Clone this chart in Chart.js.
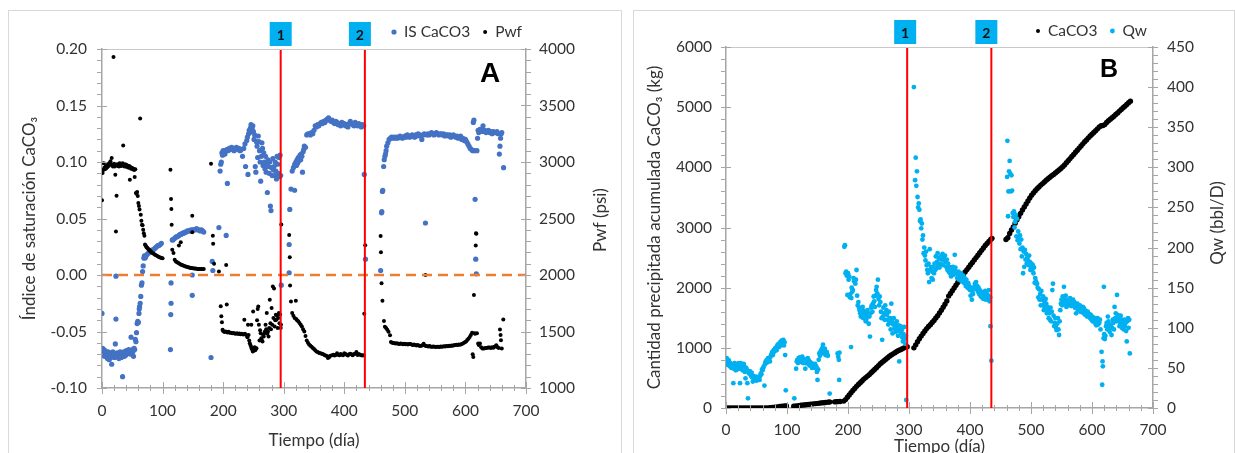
<!DOCTYPE html>
<html>
<head>
<meta charset="utf-8">
<script src="https://cdn.jsdelivr.net/npm/chart.js@4.4.1/dist/chart.umd.min.js"></script>
<style>
  body { margin: 0; background: #fff; width: 1235px; height: 453px; overflow: hidden; position: relative; }
  .frame { position: absolute; border: 1px solid #d9d9d9; }
  #boxA { left: 8px; top: 10px; width: 612px; height: 460px; }
  #boxB { left: 633px; top: 10px; width: 600px; height: 460px; }
  #wrapA { position: absolute; left: 0; top: 0; }
  #wrapB { position: absolute; left: 620px; top: 0; }
</style>
</head>
<body>
<div class="frame" id="boxA"></div>
<div class="frame" id="boxB"></div>
<div id="wrapA"><canvas id="chartA" width="620" height="453"></canvas></div>
<div id="wrapB"><canvas id="chartB" width="615" height="462"></canvas></div>
<script>
// ---- data: [day, value] ----
// Panel A: indice de saturacion (left axis) and Pwf (right axis, psi)
const isCaCO3 = [
  [0,-0.034],[1,-0.065],[2,-0.068],[3,-0.066],[4,-0.072],[5,-0.067],[6,-0.069],[8,-0.070],[9,-0.074],[10,-0.068],
  [11,-0.072],[12,-0.075],[13,-0.070],[14,-0.069],[15,-0.073],[16,-0.079],[17,-0.071],[18,-0.068],[19,-0.072],[20,-0.070],
  [21,-0.073],[22,-0.061],[23,-0.001],[23,-0.039],[24,-0.071],[25,-0.069],[26,-0.072],[27,-0.070],[28,-0.074],[29,-0.071],
  [30,-0.068],[31,-0.072],[32,-0.073],[33,-0.070],[34,-0.090],[35,-0.071],[36,-0.068],[37,-0.072],[38,-0.069],[39,-0.071],
  [40,-0.067],[41,-0.070],[42,-0.068],[43,-0.069],[44,-0.066],[45,-0.068],[46,-0.067],[47,-0.070],[48,-0.055],[49,-0.067],
  [50,-0.066],[51,-0.068],[52,-0.072],[53,-0.065],[54,-0.066],[55,-0.057],
  [56,-0.059],[57,-0.051],[58,-0.043],[59,-0.041],[60,-0.042],[61,-0.034],[61.5,-0.030],[62,-0.028],[63,-0.025],[64,-0.019],
  [65,-0.009],[66,-0.007],[67,0.003],[68,0.008],[69,0.015],[70,0.017],[71,0.015],
  [72,0.016],[74,0.018],[76,0.019],[78,0.020],[80,0.021],[82,0.022],[84,0.022],[86,0.023],[88,0.024],[90,0.025],
  [92,0.026],[94,0.026],[96,0.027],[98,0.028],
  [113,-0.066],[113.5,-0.035],[114,-0.025],[114,-0.007],[116,0.031],
  [117,0.031],[119,0.032],[121,0.033],[123,0.034],[125,0.034],[127,0.035],[129,0.036],[131,0.036],[133,0.037],[135,0.037],
  [137,0.038],[139,0.038],[141,0.039],[143,0.039],[145,0.039],[147,0.040],[149,0.0],[149,-0.018],[150,0.040],[152,0.040],
  [154,0.040],[156,0.041],[158,0.040],[160,0.040],[162,0.039],[164,0.040],[166,0.039],[168,0.038],
  [180,-0.073],[182,0.012],[183,0.004],[193,0.042],[205,0.035],
  [195,0.092],[196,0.098],[197,0.100],[198,0.108],[199,0.106],[200,0.110],[202,0.109],[203,0.107],[204,0.110],[207,0.081],
  [206,0.111],[208,0.110],[210,0.112],[212,0.111],[214,0.113],[216,0.112],[218,0.110],[220,0.112],[222,0.113],[224,0.111],
  [226,0.112],[228,0.110],[230,0.111],[232,0.105],[234,0.112],[236,0.116],[237,0.096],[239,0.119],[240,0.122],[241,0.089],
  [242,0.125],[243,0.128],[244,0.126],[245,0.130],[246,0.133],[247,0.131],[248,0.129],[249,0.132],[250,0.127],[251,0.120],
  [252,0.124],[253,0.096],[254,0.091],[255,0.118],[256,0.114],[257,0.104],[258,0.123],[259,0.118],[260,0.110],[261,0.100],
  [262,0.083],[263,0.105],[264,0.117],[265,0.112],[266,0.097],[267,0.108],[268,0.100],[269,0.094],[270,0.105],[271,0.091],
  [272,0.098],[273,0.073],[274,0.102],[275,0.096],[276,0.090],[277,0.100],[278,0.061],[279,0.057],[280,0.095],[281,0.088],
  [282,0.103],[283,0.093],[284,0.096],[285,0.088],[286,0.100],[287,0.092],[288,0.085],[289,0.105],[290,0.098],[291,0.090],
  [292,0.104],[293,0.087],[294,0.106],[295,0.088],
  [296,-0.009],[309,0.002],[309,0.027],[310,0.058],[312,0.076],[314,0.092],[316,0.095],[318,0.075],[318,0.098],[320,0.100],
  [321,0.097],[322,0.102],[323,0.099],[324,0.104],[325,0.101],[326,0.103],[327,0.106],[328,0.102],[329,0.107],[330,0.105],
  [331,0.091],[332,0.109],[333,0.111],[334,0.114],[336,0.113],[338,0.124],[340,0.125],[342,0.125],[344,0.124],[346,0.126],
  [348,0.125],[350,0.128],[352,0.132],[354,0.131],[356,0.133],[358,0.132],[360,0.134],[362,0.135],[364,0.134],[366,0.136],
  [368,0.135],[370,0.137],[372,0.138],[374,0.139],[376,0.137],[378,0.136],[380,0.137],[382,0.135],[384,0.134],[386,0.136],
  [388,0.135],[390,0.133],[392,0.134],[394,0.132],[396,0.135],[398,0.133],[400,0.134],[402,0.132],[404,0.133],[406,0.131],
  [408,0.134],[410,0.136],[412,0.134],[414,0.133],[416,0.132],[418,0.135],[420,0.133],[422,0.132],[424,0.134],[426,0.133],
  [428,0.131],[430,0.133],[432,0.132],[433,0.089],[435,0.014],
  [460,0.004],[461.5,0.055],[462,0.056],[463,0.074],[463.5,0.075],[465,0.096],[466,0.102],[467,0.105],[468,0.107],[469,0.110],
  [470,0.114],[472,0.117],[474,0.120],[476,0.121],[478,0.122],[480,0.121],[482,0.122],[484,0.121],[486,0.122],[488,0.121],
  [490,0.122],[492,0.123],[494,0.122],[496,0.121],[498,0.122],[500,0.123],[502,0.122],[504,0.124],[506,0.123],[508,0.122],
  [510,0.123],[512,0.124],[514,0.123],[516,0.122],[518,0.124],[520,0.123],[522,0.125],[524,0.124],[526,0.123],[528,0.120],
  [530,0.124],[532,0.125],[534,0.046],[536,0.124],[538,0.125],[540,0.124],[542,0.125],[544,0.126],[546,0.125],[548,0.124],
  [550,0.125],[552,0.126],[554,0.125],[556,0.124],[558,0.125],[560,0.125],[562,0.124],[564,0.125],[566,0.123],[568,0.124],
  [570,0.124],[572,0.123],[574,0.124],[576,0.122],[578,0.123],[580,0.124],[582,0.123],[584,0.122],[586,0.123],[588,0.121],
  [590,0.122],[592,0.123],[594,0.120],[596,0.121],[598,0.119],[600,0.120],[602,0.118],[604,0.116],[606,0.114],[608,0.112],
  [610,0.111],[612,0.110],[613,0.135],[614,0.137],[615,0.110],[616,0.067],[617,0.014],[618,0.001],[619,0.110],[620,0.121],
  [621,0.128],[622,0.126],[624,0.129],[626,0.127],[628,0.128],[629,0.132],[630,0.127],[632,0.128],[634,0.126],[636,0.127],
  [638,0.128],[640,0.126],[642,0.127],[644,0.125],[646,0.127],[648,0.126],[650,0.126],[652,0.127],[654,0.125],[656,0.107],
  [657,0.114],[658,0.121],[659,0.125],[660,0.126],[663,0.095]
];
const pwf = [
  [0,2661],[1,2903],[2,2930],[3,2990],[4,2950],[5,2935],[6,2960],[7,2945],[8,2970],[9,2955],[10,2980],[11,2965],[12,2990],
  [13,2975],[14,3006],[15,2980],[16,3035],[17,2975],[18,2960],[19,3929],[20,2985],[21,2960],[22,2888],[23,2386],[24,2702],
  [25,2980],[26,2965],[27,2975],[28,2960],[29,2990],[30,2970],[31,2985],[32,2965],[33,2975],[34,2990],[35,3145],[36,2975],
  [37,2960],[38,2980],[39,2965],[40,2975],[41,2955],[42,2970],[43,2960],[44,2950],[45,2965],[46,2844],[47,2955],[48,2940],
  [49,2950],[50,2945],[51,2935],[52,2940],[53,2930],[54,2867],[55,2935],
  [56,2726],[57,2720],[58,2735],[59,2700],[60,2637],[61,2610],[62,2580],[63,3386],[64,2534],[65,2480],[66,2445],[67,2440],
  [68,2400],[69,2370],[70,2348],
  [71,2270],[72,2262],[73,2250],[74,2244],[75,2239],[76,2232],[77,2226],[78,2222],[79,2215],[80,2210],[81,2205],[82,2200],
  [84,2192],[86,2185],[88,2178],[90,2172],[92,2165],[94,2160],[96,2155],[98,2150],[100,2148],
  [113,2932],[114,2673],[114.5,2584],[115,2445],[116,2224],[118,2195],[120,2136],
  [122,2120],[124,2112],[126,2106],[127,2260],[128,2100],[130,2289],[130,2094],[132,2088],[134,2083],[136,2079],[138,2076],
  [140,2072],[142,2068],[144,2066],[146,2063],[148,2061],[149,2525],[149,2378],[150,2060],[152,2058],[154,2057],[156,2055],
  [158,2054],[160,2052],[162,2053],[164,2052],[166,2054],[168,2053],
  [180,2985],[183,2348],[183.5,2277],[185,2100],[193,2032],[205,2089],
  [196,1723],[197,1634],[198,1581],[199,1516],[200,1505],[202,1495],[204,1500],[206,1740],[207,1492],[209,1497],[211,1488],
  [213,1490],[215,1484],[217,1487],[219,1482],[221,1480],[223,1485],[225,1478],[227,1482],[229,1476],[231,1480],[233,1474],
  [235,1603],[236,1480],[238,1468],[240,1450],[241,1560],[242,1470],[243,1420],[244,1396],[245,1380],[246,1367],[246.5,1559],
  [247,1350],[248,1340],[249,1322],[249.5,1677],[250,1330],[251,1345],[252,1360],[253,1335],[254,1350],[255,1352],[256,1600],
  [257,1700],[258,1722],[259,1560],[260,1420],[261,1510],[262,1485],[263,1440],[264,1420],[265,1411],[266,1470],[267,1455],
  [268,1485],[269,1500],[270,1560],[271,1520],[272,1663],[273,1480],[274,1500],[275,1456],[276,1530],[277,1781],[278,1574],
  [279,1520],[280,1707],[281,1560],[282,1899],[283,1620],[284,1880],[285,1544],[286,1600],[287,1648],[288,1604],[289,1640],
  [290,1530],[291,1620],[292,1663],[293,1574],[294,1650],[295,1530],[295.5,1560],
  [296,2447],[309,2355],[310,2157],[310.5,1908],[312,1766],[314,1663],[316,1640],[318,1620],[320,1772],[320.5,1610],[322,1600],
  [324,1590],[326,1575],[328,1560],[330,1545],[332,1520],[334,1500],[336,1460],[338,1420],[340,1400],[342,1385],[344,1375],
  [346,1365],[348,1355],[350,1345],[352,1335],[354,1322],[356,1318],[358,1312],[360,1308],[362,1305],[364,1300],[366,1296],
  [368,1290],[370,1286],[372,1280],[373,1265],[375,1272],[377,1285],[380,1290],[382,1295],[384,1288],[386,1293],[388,1307],
  [390,1295],[392,1290],[394,1300],[396,1295],[398,1290],[400,1307],[402,1300],[404,1295],[406,1288],[408,1298],[410,1302],
  [412,1296],[414,1290],[416,1300],[418,1302],[420,1318],[422,1292],[424,1300],[426,1295],[428,1290],[430,1288],[432,1290],
  [433,1657],[434.5,2263],
  [460,2346],[460.5,2201],[461.5,1926],[463,1772],[465.5,1594],[467,1541],[469,1530],[471,1515],[473,1497],[475.5,1467],
  [477,1408],[479,1400],[481,1398],[483,1395],[485,1393],[487,1396],[489,1392],[491,1390],[493,1394],[495,1391],[497,1388],
  [499,1392],[501,1387],[503,1390],[505,1386],[507,1389],[509,1390],[511,1385],[513,1380],[515,1384],[517,1380],[519,1376],
  [521,1380],[523,1376],[525,1372],[527,1375],[529,1378],[531,1392],[533,1376],[534,2000],[535,1372],[537,1370],[539,1368],
  [541,1372],[543,1366],[545,1364],[547,1368],[549,1365],[551,1362],[553,1364],[555,1366],[557,1363],[559,1368],[561,1365],
  [563,1367],[565,1370],[567,1368],[569,1372],[571,1370],[573,1374],[575,1372],[577,1376],[579,1374],[581,1378],[583,1380],
  [585,1382],[587,1380],[589,1385],[591,1382],[593,1388],[595,1392],[597,1399],[599,1405],[601,1412],[603,1425],[605,1435],
  [607,1452],[609,1470],[611,1488],[612,1298],[613,1275],[614,1822],[615,1485],[616,1480],[617,2260],[617.5,2370],[618,2365],
  [619,1484],[621,1393],[622,1380],[624,1393],[626,1360],[628,1350],[630,1349],[632,1352],[634,1355],[636,1356],[638,1358],
  [640,1358],[642,1355],[644,1360],[646,1357],[648,1365],[650,1370],[651,1378],[653,1360],[655,1355],[657,1518],[658,1470],
  [658.7,1423],[660,1349],[662.5,1606]
];

// Panel B: cumulative CaCO3 (kg, left axis) and Qw (bbl/D, right axis)
const caco3Acum = [
  [0,0],[4,0],[8,0],[12,0],[16,0],[20,0],[24,0],[28,0],[32,0],[36,0],[40,0],[44,0],[48,0],[52,0],[56,0],[60,0],[64,0],
  [68,2],[72,4],[76,8],[80,14],[84,19],[88,24],[92,28],[96,32],[99,35],
  [111,30],[115,36],[119,40],[123,45],[127,50],[131,55],[135,60],[139,65],[143,69],[147,73],[151,77],[155,82],[159,87],
  [163,92],[167,97],[170,100],
  [178,102],[181,104],[184,106],[187,108],
  [193,115],[196,140],[199,180],[202,215],[205,255],[208,290],[211,325],[214,360],[217,390],[220,420],[223,450],[226,480],
  [229,505],[232,530],[235,555],[238,585],[241,615],[244,645],[247,675],[250,705],[253,735],[256,760],[259,785],[262,810],
  [265,835],[268,860],[271,880],[274,900],[277,920],[280,940],[283,955],[286,970],[289,985],[292,1000],[295,1010],[297,1020],
  [308,1000],[311,1050],[314,1100],[317,1150],[320,1195],[323,1240],[326,1280],[329,1320],[332,1355],[335,1385],[338,1420],
  [341,1455],[344,1495],[347,1535],[350,1578],[353,1625],[356,1675],[359,1725],[362,1780],[365,1860],[368,1905],[371,1950],
  [374,1995],[377,2040],[380,2085],[383,2130],[386,2175],[389,2220],[392,2260],[395,2300],[398,2340],[401,2380],[404,2420],
  [407,2460],[410,2500],[413,2540],[416,2580],[419,2620],[422,2660],[425,2700],[428,2735],[431,2770],[434,2800],[436,2820],
  [459,2800],[462,2830],[465,2900],[468,2958],[471,3010],[474,3070],[477,3130],[480,3180],[483,3235],[486,3290],[489,3340],
  [492,3390],[495,3440],[498,3490],[501,3535],[504,3575],[507,3610],[510,3645],[513,3675],[516,3705],[519,3730],[522,3755],
  [525,3785],[528,3810],[531,3835],[534,3860],[537,3880],[540,3905],[543,3930],[546,3955],[549,3980],[552,4010],[555,4040],
  [558,4075],[561,4110],[564,4145],[567,4180],[570,4215],[573,4250],[576,4285],[579,4320],[582,4355],[585,4390],[588,4425],
  [591,4455],[594,4490],[597,4520],[600,4550],[603,4580],[606,4610],[609,4640],[612,4670],[615,4690],[618,4695],[621,4710],
  [624,4745],[627,4775],[630,4800],[633,4825],[636,4850],[639,4880],[642,4905],[645,4935],[648,4960],[651,4990],[654,5015],
  [657,5045],[660,5075],[663,5100]
];
const qw = [
  [1,62],[2,58],[3,54],[4,60],[5,58],[6,52],[7,56],[8,55],[9,50],[10,53],[11,52],[12,31],[13,49],[14,56],[15,50],[16,47],
  [17,53],[18,48],[19,55],[20,52],[21,56],[22,49],[23,31],[24,56],[25,51],[26,54],[27,47],[28,52],[29,55],[30,52],[31,45],
  [32,37],[33,50],[34,48],[35,31],[36,12],[37,44],[38,43],[39,46],[40,42],[41,40],[42,44],[43,38],[44,33],[45,40],[46,38],
  [47,36],[48,37],[49,39],[50,34],[51,36],[52,35],[53,38],[54,36],[55,35],[56,40],[57,43],[58,42],[59,48],[60,47],[61,50],
  [62,52],[63,28],[64,55],[65,58],[66,56],[67,60],[68,57],[69,62],[70,60],[71,62],[72,58],[73,64],[74,66],[75,68],[76,70],
  [77,66],[78,72],[79,70],[80,73],[81,75],[82,74],[83,72],[84,78],[85,77],[86,80],[87,76],[88,79],[89,82],[90,78],[91,84],
  [92,80],[93,83],[94,85],[95,78],[96,82],[97,66],[98,22],
  [112,12],[115,49],[116,58],[117,60],[118,56],[119,62],[120,58],[121,63],[122,60],[123,62],[124,57],[125,64],[126,59],
  [127,56],[128,61],[129,58],[130,49],[131,56],[132,60],[133,57],[134,62],[135,55],[136,59],[137,53],[138,57],[139,54],
  [140,56],[141,50],[142,55],[143,52],[144,54],[145,50],[146,55],[147,52],[148,52],[149,45],[150,35],[151,48],[152,60],
  [153,68],[154,65],[155,70],[156,72],[157,68],[158,75],[159,79],[160,72],[161,70],[162,74],[163,66],[164,68],[165,70],
  [166,67],[167,65],[170,18],[183,68],[184,64],[185,60],[185.5,35],[186,69],
  [194,201],[195,203],[196,168],[197,170],[198,165],[199,141],[200,168],[201,160],[202,164],[203,138],[204,142],[205,76],
  [205.5,137],[206,150],[207,145],[208,147],[209,162],[210,158],[211,160],[212,155],[213,160],[214,172],[215,140],[216,128],
  [217,132],[218,125],[219,122],[220,118],[221,114],[222,120],[223,116],[224,126],[225,112],[226,121],[227,117],[228,113],
  [229,108],[230,110],[231,118],[232,122],[233,115],[234,105],[235,114],[236,89],[237,118],[238,125],[239,128],[240,120],
  [241,130],[242,139],[243,133],[244,126],[245,140],[246,147],[247,151],[248,143],[249,160],[250,136],[251,128],[252,139],
  [253,132],[254,120],[255,112],[256,85],[257,114],[258,125],[259,118],[260,110],[261,128],[262,118],[263,122],[264,116],
  [265,110],[266,104],[267,120],[268,106],[269,112],[270,98],[271,130],[272,108],[273,93],[274,104],[275,112],[276,99],
  [277,105],[278,95],[279,101],[280,108],[281,96],[282,90],[283,103],[284,58],[285,98],[286,102],[287,93],[288,97],[289,88],
  [290,83],[291,92],[292,101],[293,86],[294,80],[295,90],[295.5,10],
  [308,400],[310,284],[311,312],[312,277],[313,295],[314,263],[315,250],[316,255],[317,247],[318,233],[319,235],[320,224],
  [321,230],[322,210],[323,215],[324,193],[325,200],[326,190],[327,184],[328,195],[329,178],[330,172],[331,168],[332,180],
  [333,157],[334,198],[335,172],[336,176],[337,162],[338,170],[339,160],[340,176],[341,168],[342,180],[343,172],[344,189],
  [345,174],[346,182],[347,193],[348,178],[349,186],[350,175],[351,188],[352,180],[353,189],[354,185],[355,192],[356,178],
  [357,186],[358,184],[359,190],[360,182],[361,176],[362,185],[363,172],[364,180],[365,170],[366,176],[367,168],[368,174],
  [369,164],[370,170],[371,168],[372,176],[373,166],[374,172],[375,191],[376,175],[377,170],[378,168],[379,162],[380,166],
  [381,170],[382,160],[383,166],[384,163],[385,168],[386,158],[387,164],[388,160],[389,165],[390,156],[391,162],[392,158],
  [393,152],[394,160],[395,155],[396,150],[397,156],[398,153],[399,148],[400,147],[401,140],[402,150],[403,135],[404,145],
  [405,142],[406,150],[407,149],[408,155],[409,153],[410,157],[411,148],[412,152],[413,145],[414,150],[415,142],[416,147],
  [417,140],[418,145],[419,138],[420,144],[421,141],[422,136],[423,143],[424,139],[425,146],[426,135],[427,137],[428,142],
  [429,136],[430,140],[431,147],[432,133],[433,138],[433.5,102],[435,59],
  [460.8,288],[461.3,333],[462.4,239],[463,270],[464,295],[465,308],[466,292],[467,270],[468,290],[469,271],[470,243],
  [471,238],[472,245],[473,225],[474,232],[475,241],[476,214],[477,236],[478,209],[479,220],[480,212],[481,205],[482,215],
  [483,198],[484,210],[485,189],[486,200],[487,168],[488,195],[489,176],[490,197],[491,185],[492,192],[493,180],[494,188],
  [495,184],[496,178],[497,190],[498,182],[499,172],[500,176],[501,180],[502,172],[503,178],[504,168],[505,175],[506,156],
  [507,162],[508,158],[509,155],[510,155],[511,150],[512,138],[513,148],[514,135],[515,142],[516,128],[517,146],[518,135],
  [519,128],[520,139],[521,122],[522,132],[523,125],[524,136],[525,130],[526,118],[527,126],[528,122],[529,112],[530,118],
  [531,110],[532,125],[533,108],[534,120],[535,147],[536,155],[537,115],[538,102],[539,106],[540,112],[541,100],[542,97],
  [543,105],[544,112],[545,98],[546,91],[547,108],[548,122],[549,130],[550,135],[551,128],[552,139],[553,133],[554,151],
  [555,136],[556,130],[557,140],[558,126],[559,132],[560,134],[561,128],[562,135],[563,130],[564,137],[565,132],[566,127],
  [567,134],[568,130],[569,135],[570,128],[571,132],[572,125],[573,130],[574,118],[575,126],[576,130],[577,122],[578,128],
  [579,124],[580,128],[581,120],[582,126],[583,124],[584,122],[585,126],[586,118],[587,124],[588,120],[589,116],[590,121],
  [591,118],[592,114],[593,120],[594,117],[595,115],[596,117],[597,112],[598,116],[599,110],[600,114],[601,108],[602,113],
  [603,110],[604,112],[605,106],[606,110],[607,103],[608,108],[609,112],[610,104],[611,110],[612,106],[613,110],[614,98],
  [615.7,70],[616.7,29],[617.3,58],[617.8,52],[619,87],[619.5,151],[620,92],[621,86],[622,90],[623,102],[624,106],[625,98],
  [626,114],[627,108],[628,102],[629,95],[630,100],[631,104],[632,91],[633,100],[634,110],[635,106],[636,98],[637,126],
  [638,112],[639,118],[640,108],[641,141],[642,116],[643,110],[644,112],[645,102],[646,106],[647,115],[648,110],[649,100],
  [650,108],[651,104],[652,98],[653,110],[654,102],[655,106],[656,96],[657,83],[658,108],[659,112],[660,100],[661,110],[662,68]
];

const eventDaysA = [295, 434];
const eventDaysB = [297, 435];
const zeroIS = 0;

const xTicks = [0, 700, 100];       // min, max, step
const isTicks = [-0.1, 0.2, 0.05];
const pwfTicks = [1000, 4000, 500];
const kgTicks = [0, 6000, 1000];
const qwTicks = [0, 450, 50];

Chart.defaults.font.family = 'Lato';
Chart.defaults.color = '#404040';

const TXT = '#333333';
const AXIS = '#a6a6a6';
const TITLE_SIZE = 17;

// minor ticks, event boxes, legend, panel letter, right axis title
const decor = {
  id: 'decor',
  afterDraw(chart, args, o) {
    const ctx = chart.ctx, a = chart.chartArea;
    ctx.save();
    ctx.strokeStyle = '#c8c8c8';
    ctx.lineWidth = 1;
    ctx.beginPath();
    ctx.moveTo(a.left, a.top + 0.5);
    ctx.lineTo(a.right, a.top + 0.5);
    ctx.stroke();

    ctx.strokeStyle = AXIS;
    o.ticks.forEach(t => {
      const s = chart.scales[t.id];
      const n = Math.round((s.max - s.min) / t.minor);
      for (let i = 0; i <= n; i++) {
        const major = i % t.every === 0;
        const p = Math.round(s.getPixelForValue(s.min + i * t.minor)) + 0.5;
        ctx.beginPath();
        if (t.id === 'x') {
          ctx.moveTo(p, a.bottom - (major ? 6 : 3));
          ctx.lineTo(p, a.bottom + (major ? 6 : 3));
        } else if (t.side === 'left') {
          ctx.moveTo(a.left - 5, p);
          ctx.lineTo(a.left + (major ? 5 : 0), p);
        } else {
          ctx.moveTo(a.right - (major ? 5 : 0), p);
          ctx.lineTo(a.right + 5, p);
        }
        ctx.stroke();
      }
    });

    // numbered boxes above the event lines
    o.events.forEach((d, i) => {
      const x = chart.scales.x.getPixelForValue(d) + o.boxShift[i];
      ctx.fillStyle = '#00b0f0';
      ctx.fillRect(x - 11, o.boxTop, 22, 24);
      ctx.fillStyle = '#111';
      ctx.font = 'bold 14px Lato';
      ctx.textAlign = 'center';
      ctx.textBaseline = 'middle';
      ctx.fillText(String(i + 1), x, o.boxTop + 13);
    });

    // legend
    let lx = o.legendX;
    ctx.font = '15.5px Lato';
    ctx.textBaseline = 'middle';
    ctx.textAlign = 'left';
    o.legend.forEach(it => {
      ctx.fillStyle = it.color;
      ctx.beginPath();
      ctx.arc(lx, o.legendY, it.r, 0, Math.PI * 2);
      ctx.fill();
      ctx.fillStyle = TXT;
      ctx.fillText(it.label, lx + 10, o.legendY);
      lx += 10 + ctx.measureText(it.label).width + 15;
    });

    // panel letter
    ctx.fillStyle = '#000';
    ctx.font = 'bold ' + o.letterSize + 'px "Liberation Sans"';
    ctx.textBaseline = 'alphabetic';
    ctx.fillText(o.letter, o.letterX, o.letterY);

    // right axis title, reading upwards
    ctx.translate(o.rightTitleX, o.rightTitleY);
    ctx.rotate(-Math.PI / 2);
    ctx.font = TITLE_SIZE + 'px Lato';
    ctx.fillStyle = TXT;
    ctx.textAlign = 'center';
    ctx.textBaseline = 'middle';
    ctx.fillText(o.rightTitle, 0, 0);
    ctx.restore();
  }
};

function pts(data, color, r, axis, order) {
  return { type: 'scatter', data: data, yAxisID: axis, order: order,
    backgroundColor: color, borderWidth: 0, pointRadius: r, pointHoverRadius: r };
}
function vline(day, lim, axis) {
  return { type: 'line', data: [[day, lim[0]], [day, lim[1]]], yAxisID: axis, order: 0,
    borderColor: '#ff0000', borderWidth: 2, pointRadius: 0, showLine: true };
}
function fmt2(v) { return (Math.abs(v) < 1e-9 ? 0 : v).toFixed(2); }

function scaleX(h, pad) {
  return {
    type: 'linear', min: xTicks[0], max: xTicks[1],
    ticks: { stepSize: xTicks[2], padding: pad, font: { size: 15.5 }, color: TXT },
    grid: { display: false, drawTicks: false },
    border: { color: AXIS, width: 1.5 },
    title: { display: true, text: 'Tiempo (día)', font: { size: TITLE_SIZE }, color: TXT, padding: { top: 0, bottom: h.tb } },
    afterFit: s => { s.height = h.h; }
  };
}
function scaleY(t, pos, w, pad, title, tpad, cb) {
  return {
    type: 'linear', position: pos, min: t[0], max: t[1],
    ticks: { stepSize: t[2], padding: pad, font: { size: 15.5 }, color: TXT, callback: cb },
    grid: { display: false, drawTicks: false },
    border: { color: AXIS, width: 1.5 },
    title: { display: !!title, text: title, font: { size: TITLE_SIZE }, color: TXT, padding: { top: tpad, bottom: 0 } },
    afterFit: s => { s.width = w; }
  };
}

const zeroLine = {
  type: 'line', data: [[xTicks[0], zeroIS], [xTicks[1], zeroIS]], yAxisID: 'y', order: 1,
  borderColor: '#ed7d31', borderWidth: 2.5, borderDash: [10, 6], pointRadius: 0, showLine: true
};

new Chart(document.getElementById('chartA'), {
  type: 'scatter',
  data: { datasets: [
    vline(eventDaysA[0], [isTicks[0], isTicks[1]], 'y'),
    vline(eventDaysA[1], [isTicks[0], isTicks[1]], 'y'),
    zeroLine,
    pts(pwf, '#000000', 2, 'y2', 2),
    pts(isCaCO3, '#4472c4', 2.6, 'y', 3)
  ] },
  options: {
    responsive: false, animation: false, events: [],
    layout: { padding: { top: 49, left: 0, right: 0, bottom: 0 } },
    scales: {
      x: scaleX({ h: 65, tb: 2 }, 14),
      y: scaleY(isTicks, 'left', 102, 15, 'Índice de saturación CaCO₃', 19, fmt2),
      y2: scaleY(pwfTicks, 'right', 94, 13, '', 0, v => v)
    },
    plugins: {
      legend: { display: false }, tooltip: { enabled: false },
      decor: {
        ticks: [
          { id: 'x', minor: 20, every: 5 },
          { id: 'y', side: 'left', minor: 0.01, every: 5 },
          { id: 'y2', side: 'right', minor: 100, every: 5 }
        ],
        events: eventDaysA, boxShift: [0, -5], boxTop: 22,
        legend: [{ label: 'IS CaCO3', color: '#4472c4', r: 2.6 }, { label: 'Pwf', color: '#000', r: 2 }],
        legendX: 394, legendY: 32,
        letter: 'A', letterSize: 28, letterX: 480, letterY: 82,
        rightTitle: 'Pwf (psi)', rightTitleX: 601, rightTitleY: 220
      }
    }
  },
  plugins: [decor]
});

new Chart(document.getElementById('chartB'), {
  type: 'scatter',
  data: { datasets: [
    vline(eventDaysB[0], [kgTicks[0], kgTicks[1]], 'y'),
    vline(eventDaysB[1], [kgTicks[0], kgTicks[1]], 'y'),
    pts(qw, '#00b0f0', 2.4, 'y2', 2),
    pts(caco3Acum, '#000000', 2.7, 'y', 3)
  ] },
  options: {
    responsive: false, animation: false, events: [],
    layout: { padding: { top: 47, left: 0, right: 0, bottom: 0 } },
    scales: {
      x: scaleX({ h: 54, tb: 5 }, 13),
      y: scaleY(kgTicks, 'left', 106, 14, 'Cantidad precipitada acumulada CaCO₃ (kg)', 24, v => v),
      y2: scaleY(qwTicks, 'right', 82, 14, '', 0, v => v)
    },
    plugins: {
      legend: { display: false }, tooltip: { enabled: false },
      decor: {
        ticks: [
          { id: 'x', minor: 20, every: 5 },
          { id: 'y', side: 'left', minor: 200, every: 5 },
          { id: 'y2', side: 'right', minor: 10, every: 5 }
        ],
        events: eventDaysB, boxShift: [-2, -5], boxTop: 20,
        legend: [{ label: 'CaCO3', color: '#000', r: 2 }, { label: 'Qw', color: '#00b0f0', r: 2.4 }],
        legendX: 418, legendY: 31,
        letter: 'B', letterSize: 25, letterX: 480, letterY: 77,
        rightTitle: 'Qw (bbl/D)', rightTitleX: 598, rightTitleY: 223
      }
    }
  },
  plugins: [decor]
});
</script>
</body>
</html>
